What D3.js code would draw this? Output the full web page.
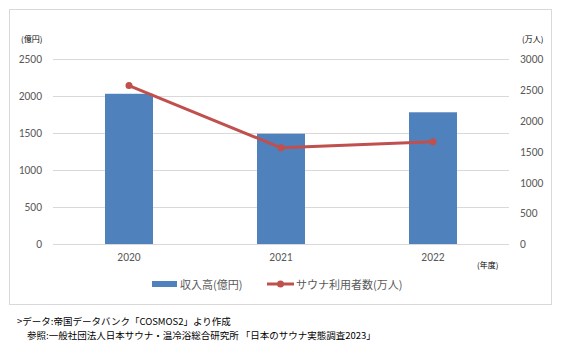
<!DOCTYPE html>
<html>
<head>
<meta charset="utf-8">
<script src="https://cdn.jsdelivr.net/npm/d3@7"></script>
<style>
  body { margin: 0; background: #fff; }
  svg text { font-family: "Noto Sans CJK JP", "Noto Sans", sans-serif; }
</style>
</head>
<body>
<div id="chart"></div>
<script>
// --------------------
// DATA
// --------------------
const years = ["2020", "2021", "2022"];
const revenue = [2030, 1490, 1780];      // 収入高(億円)
const saunaUsers = [2570, 1560, 1660];   // サウナ利用者数(万人)
const leftTicks = [0, 500, 1000, 1500, 2000, 2500];
const rightTicks = [0, 500, 1000, 1500, 2000, 2500, 3000];

// --------------------
// CHART
// --------------------
const width = 575;
const height = 354;
const plot = { left: 53, right: 509, top: 59, bottom: 244 };

const svg = d3.select("#chart")
  .append("svg")
  .attr("width", width)
  .attr("height", height);

// outer frame
svg.append("rect")
  .attr("x", 9.5).attr("y", 9.5)
  .attr("width", 542).attr("height", 295)
  .attr("fill", "#fff")
  .attr("stroke", "#d9d9d9");

const x = d3.scaleBand()
  .domain(years)
  .range([plot.left, plot.right]);

const yL = d3.scaleLinear()
  .domain([0, 2500])
  .range([plot.bottom, plot.top]);

const yR = d3.scaleLinear()
  .domain([0, 3000])
  .range([plot.bottom, plot.top]);

// gridlines
svg.append("g")
  .selectAll("line")
  .data(leftTicks)
  .join("line")
  .attr("x1", plot.left).attr("x2", plot.right)
  .attr("y1", d => Math.round(yL(d)) + 0.5)
  .attr("y2", d => Math.round(yL(d)) + 0.5)
  .attr("stroke", "#d9d9d9");

// left axis
const axL = svg.append("g")
  .attr("transform", `translate(${plot.left - 11},0)`)
  .call(d3.axisLeft(yL).tickValues(leftTicks).tickFormat(d3.format("d"))
    .tickSize(0).tickPadding(0));
axL.select(".domain").remove();

// right axis
const axR = svg.append("g")
  .attr("transform", `translate(${plot.right + 11},0)`)
  .call(d3.axisRight(yR).tickValues(rightTicks).tickFormat(d3.format("d"))
    .tickSize(0).tickPadding(0));
axR.select(".domain").remove();

// bottom axis
const axB = svg.append("g")
  .attr("transform", `translate(0,${plot.bottom + 9})`)
  .call(d3.axisBottom(x).tickSize(0).tickPadding(0));
axB.select(".domain").remove();

svg.selectAll(".tick text")
  .attr("fill", "#595959")
  .style("font-size", "11.5px")
  .style("font-family", "Calibri, Carlito, 'Liberation Sans', sans-serif");

// bars
const barW = 48;
svg.append("g")
  .selectAll("rect")
  .data(years)
  .join("rect")
  .attr("x", (d, i) => x(d) + x.bandwidth() / 2 - barW / 2)
  .attr("y", (d, i) => yL(revenue[i]))
  .attr("width", barW)
  .attr("height", (d, i) => plot.bottom - yL(revenue[i]))
  .attr("fill", "#4f81bd");

// baseline
svg.append("line")
  .attr("x1", plot.left).attr("x2", plot.right)
  .attr("y1", plot.bottom + 0.5).attr("y2", plot.bottom + 0.5)
  .attr("stroke", "#d9d9d9");

// line series
svg.append("path")
  .datum(years)
  .attr("fill", "none")
  .attr("stroke", "#c0504d")
  .attr("stroke-width", 3)
  .attr("stroke-linejoin", "round")
  .attr("d", d3.line()
    .x(d => x(d) + x.bandwidth() / 2)
    .y((d, i) => yR(saunaUsers[i]))
  );

svg.append("g")
  .selectAll("circle")
  .data(years)
  .join("circle")
  .attr("cx", d => x(d) + x.bandwidth() / 2)
  .attr("cy", (d, i) => yR(saunaUsers[i]))
  .attr("r", 3.5)
  .attr("fill", "#c0504d");

// unit labels
const unit = (tx, ty, t) => svg.append("text")
  .attr("x", tx).attr("y", ty)
  .attr("fill", "#000")
  .style("font-size", "8px")
  .text(t);
unit(21, 42, "(億円)");
unit(522, 42, "(万人)");
unit(477, 268, "(年度)");

// legend
const lg = svg.append("g").attr("transform", "translate(0,284)");
lg.append("rect")
  .attr("x", 152).attr("y", -3)
  .attr("width", 25).attr("height", 6)
  .attr("fill", "#4f81bd");
lg.append("text")
  .attr("x", 180).attr("y", 5)
  .attr("fill", "#595959")
  .style("font-size", "11px")
  .text("収入高(億円)");
lg.append("line")
  .attr("x1", 267).attr("x2", 294)
  .attr("stroke", "#c0504d")
  .attr("stroke-width", 3);
lg.append("circle")
  .attr("cx", 280.5).attr("r", 3.5)
  .attr("fill", "#c0504d");
lg.append("text")
  .attr("x", 296).attr("y", 5)
  .attr("fill", "#595959")
  .style("font-size", "11px")
  .text("サウナ利用者数(万人)");

// source notes
svg.append("text")
  .attr("x", 17).attr("y", 325)
  .attr("fill", "#000")
  .style("font-size", "9.5px")
  .text(">データ:帝国データバンク「COSMOS2」より作成");
svg.append("text")
  .attr("x", 27).attr("y", 339)
  .attr("fill", "#000")
  .style("font-size", "9.5px")
  .text("参照:一般社団法人日本サウナ・温冷浴総合研究所 「日本のサウナ実態調査2023」");
</script>
</body>
</html>
